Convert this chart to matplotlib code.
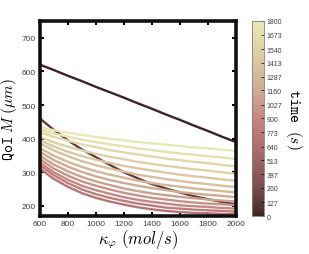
import numpy as np
import matplotlib
matplotlib.use("Agg")
import matplotlib.pyplot as plt
from matplotlib.colors import LinearSegmentedColormap, Normalize

plt.rcParams['font.family'] = ['Liberation Sans', 'DejaVu Sans']
plt.rcParams['mathtext.fontset'] = 'cm'

# data
kappa = [600, 700, 800, 900, 1000, 1100, 1200, 1300, 1400, 1500, 1600,
         1700, 1800, 1900, 2000]
times = [0, 160, 720, 810, 900, 990, 1080, 1170, 1260, 1350, 1440, 1530,
         1620, 1710, 1800]
m_t0 = [620, 604, 587, 571, 554, 538, 522, 505, 489, 472, 456, 439, 423, 406, 390]
m_t1 = [460, 426, 395, 368, 345, 322, 300, 282, 265, 252, 240, 229, 220, 212, 205]
m_t2 = [311, 280, 257, 238, 224, 213, 204, 196, 190, 185, 182, 179, 178, 176, 175]
m_t3 = [321, 291, 268, 249, 235, 224, 215, 207, 201, 195, 192, 189, 187, 185, 183]
m_t4 = [329, 300, 278, 260, 247, 236, 226, 218, 212, 207, 202, 199, 197, 194, 192]
m_t5 = [339, 311, 290, 273, 260, 249, 239, 231, 224, 219, 214, 210, 207, 205, 202]
m_t6 = [349, 323, 303, 286, 273, 262, 252, 244, 237, 232, 227, 223, 219, 216, 213]
m_t7 = [361, 336, 317, 301, 288, 277, 268, 260, 253, 247, 241, 237, 233, 230, 226]
m_t8 = [372, 349, 331, 316, 303, 293, 284, 275, 268, 262, 257, 252, 248, 244, 240]
m_t9 = [386, 365, 348, 333, 321, 311, 302, 293, 286, 280, 274, 269, 265, 260, 256]
m_t10 = [395, 377, 361, 348, 337, 328, 319, 312, 305, 299, 293, 288, 284, 279, 275]
m_t11 = [405, 389, 376, 365, 355, 346, 339, 331, 325, 319, 314, 309, 305, 300, 296]
m_t12 = [419, 405, 394, 383, 375, 366, 359, 353, 347, 341, 336, 331, 327, 322, 318]
m_t13 = [426, 415, 406, 397, 390, 383, 377, 371, 366, 361, 356, 352, 348, 344, 340]
m_t14 = [433, 425, 418, 411, 405, 400, 395, 390, 386, 382, 378, 374, 371, 367, 364]
series = [m_t0, m_t1, m_t2, m_t3, m_t4, m_t5, m_t6, m_t7, m_t8, m_t9,
          m_t10, m_t11, m_t12, m_t13, m_t14]
cb_ticks = [0, 127, 260, 387, 513, 640, 773, 900, 1027, 1160, 1287,
            1413, 1540, 1673, 1800]

# matlab-like pink, cut before it turns white
base = plt.get_cmap('pink')
cmap = LinearSegmentedColormap.from_list(
    'pink_cut', base(np.linspace(0.03, 0.75, 256)))
norm = Normalize(0, 1800)

fig = plt.figure(figsize=(3.09, 2.55), dpi=100)
ax = fig.add_axes([0.129, 0.149, 0.634, 0.765])

for t, m in zip(times, series):
    ax.plot(kappa, m, color=cmap(norm(t)), lw=1.7)

ax.set_xlim(600, 2000)
ax.set_ylim(170, 750)
ax.set_xticks([600, 800, 1000, 1200, 1400, 1600, 1800, 2000])
ax.set_yticks([200, 300, 400, 500, 600, 700])
ax.tick_params(direction='in', top=True, right=True, length=3, width=1.5,
               labelsize=6, labelcolor='0.25', color='k', pad=3)
for s in ax.spines.values():
    s.set_linewidth(2.6)
    s.set_color('#111111')

ax.set_xlabel(r'$\kappa_\varphi\ (mol/s)$', fontsize=12, labelpad=0)
ax.set_ylabel(r'$\mathtt{QoI}\ M\ (\mu m)$', fontsize=11, labelpad=2)

cax = fig.add_axes([0.815, 0.149, 0.038, 0.765])
sm = plt.cm.ScalarMappable(norm=norm, cmap=cmap)
cb = fig.colorbar(sm, cax=cax)
cb.set_ticks(cb_ticks)
cb.ax.tick_params(labelsize=5, labelcolor='0.25', length=2, width=0.5,
                  direction='in', pad=2)
cb.outline.set_linewidth(0.6)
cb.outline.set_edgecolor('0.5')
cb.set_label(r'$\mathtt{time}\ \ (s)$', fontsize=11, rotation=270,
             labelpad=16)

fig.savefig('out.png', dpi=100)
